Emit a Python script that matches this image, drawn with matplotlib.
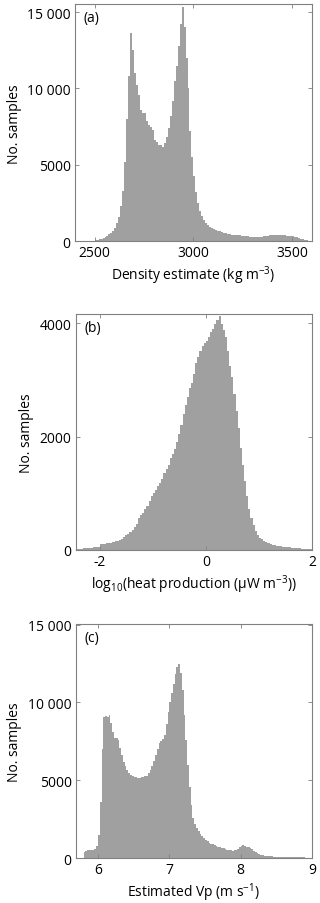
import matplotlib
matplotlib.use('Agg')
import matplotlib.pyplot as plt
import numpy as np

# histogram counts
# (a) density estimate, 10 kg/m3 bins starting at 2480
density_start = 2480
density_width = 10
density_counts = [
    0, 20, 60, 90, 120, 160, 200, 260, 350, 450,
    560, 700, 900, 1200, 1600, 2300, 3300, 5200, 8000, 10800,
    13600, 12500, 11000, 10200, 9600, 8600, 8400, 8400, 7900, 7600,
    7500, 7300, 6600, 6500, 6300, 6300, 6200, 6400, 6800, 7400,
    8200, 9200, 10500, 11500, 12800, 14200, 15300, 14000, 12000, 10000,
    7200, 5500, 4300, 3200, 2500, 2000, 1650, 1400, 1200, 1050,
    920, 850, 790, 750, 700, 650, 600, 560, 520, 480,
    450, 430, 420, 400, 390, 380, 370, 360, 340, 320,
    300, 290, 280, 280, 290, 300, 300, 320, 350, 370,
    380, 390, 400, 400, 390, 380, 390, 390, 380, 370,
    370, 360, 330, 290, 250, 210, 170, 130, 100, 70,
    50, 30,
]

# (b) log10 heat production, 0.04 bins starting at -2.44
heat_start = -2.44
heat_width = 0.04
heat_counts = [
    20, 25, 25, 30, 30, 35, 40, 40, 45, 55,
    60, 100, 105, 110, 120, 125, 130, 140, 150, 165,
    180, 200, 230, 260, 290, 310, 350, 400, 450, 560,
    620, 660, 720, 780, 860, 950, 1000, 1060, 1120, 1180,
    1260, 1350, 1420, 1500, 1620, 1700, 1780, 1900, 2050, 2200,
    2400, 2550, 2700, 2850, 2950, 3100, 3300, 3400, 3500, 3600,
    3650, 3680, 3750, 3850, 3900, 3980, 4050, 4120, 3980, 3880,
    3750, 3500, 3250, 3050, 2750, 2450, 2150, 1800, 1500, 1220,
    950, 720, 560, 440, 340, 270, 220, 190, 160, 140,
    120, 105, 95, 85, 75, 70, 65, 60, 55, 50,
    45, 42, 40, 35, 30, 28, 25, 22, 20, 18,
    15,
]

# (c) estimated Vp, 0.025 bins starting at 5.8
vp_start = 5.8
vp_width = 0.025
vp_counts = [
    380, 470, 520, 500, 490, 520, 600, 800, 1500, 3600,
    7000, 9100, 9150, 9100, 9200, 8700, 8100, 7750, 7700, 7600,
    7100, 6600, 6200, 5950, 5650, 5500, 5350, 5250, 5200, 5180,
    5150, 5150, 5180, 5200, 5250, 5300, 5450, 5650, 5900, 6250,
    6600, 7000, 7400, 7550, 7650, 7900, 8600, 9400, 10000, 10600,
    11200, 11800, 12300, 12450, 11900, 10800, 9200, 7600, 6000, 4600,
    3400, 2600, 2200, 1950, 1750, 1550, 1400, 1280, 1180, 1100,
    1000, 930, 880, 830, 780, 740, 700, 660, 620, 580,
    540, 500, 490, 480, 490, 520, 580, 680, 800, 840,
    800, 740, 700, 640, 560, 460, 370, 300, 250, 210,
    180, 160, 140, 125, 115, 105, 100, 95, 90, 85,
    80, 75, 70, 65, 60, 58, 55, 52, 50, 48,
    45, 42, 40, 38, 35, 32, 30, 28,
]

plt.rcParams['font.family'] = ['Open Sans', 'DejaVu Sans']
plt.rcParams['mathtext.default'] = 'regular'
plt.rcParams['axes.unicode_minus'] = False

bar_color = '#a0a0a0'
frame_color = '#808080'

fig = plt.figure(figsize=(3.2, 9.04), dpi=100)

panels = [
    dict(rect=[0.234, 0.732, 0.741, 0.262], start=density_start, width=density_width,
         counts=density_counts, xlim=(2400, 3600), ylim=(0, 15500),
         xticks=[2500, 3000, 3500], xlabels=['2500', '3000', '3500'],
         yticks=[0, 5000, 10000, 15000], ylabels=['0', '5000', '10 000', '15 000'],
         xlabel='Density estimate (kg m$^{-3}$)', tag='(a)'),
    dict(rect=[0.237, 0.3905, 0.738, 0.261], start=heat_start, width=heat_width,
         counts=heat_counts, xlim=(-2.45, 2), ylim=(0, 4160),
         xticks=[-2, 0, 2], xlabels=['-2', '0', '2'],
         yticks=[0, 2000, 4000], ylabels=['0', '2000', '4000'],
         xlabel='log$_{10}$(heat production (\u00b5W m$^{-3}$))', tag='(b)'),
    dict(rect=[0.237, 0.0497, 0.738, 0.259], start=vp_start, width=vp_width,
         counts=vp_counts, xlim=(5.69, 9), ylim=(0, 15050),
         xticks=[6, 7, 8, 9], xlabels=['6', '7', '8', '9'],
         yticks=[0, 5000, 10000, 15000], ylabels=['0', '5000', '10 000', '15 000'],
         xlabel='Estimated Vp (m s$^{-1}$)', tag='(c)'),
]

for p in panels:
    ax = fig.add_axes(p['rect'])
    counts = np.array(p['counts'], dtype=float)
    edges = p['start'] + p['width'] * np.arange(len(counts) + 1)
    ax.stairs(counts, edges, fill=True, color=bar_color, linewidth=0)
    ax.set_xlim(p['xlim'])
    ax.set_ylim(p['ylim'])
    ax.set_xticks(p['xticks'])
    ax.set_xticklabels(p['xlabels'])
    ax.set_yticks(p['yticks'])
    ax.set_yticklabels(p['ylabels'])
    ax.tick_params(direction='in', top=True, right=True, length=3, width=0.6,
                   color=frame_color, labelsize=10, pad=3)
    for s in ax.spines.values():
        s.set_color(frame_color)
        s.set_linewidth(0.8)
    ax.set_xlabel(p['xlabel'], fontsize=10, labelpad=2)
    ax.set_ylabel('No. samples', fontsize=10, labelpad=4)
    ax.text(0.035, 0.975, p['tag'], transform=ax.transAxes, ha='left', va='top', fontsize=10)

fig.savefig('out.png', dpi=100)
